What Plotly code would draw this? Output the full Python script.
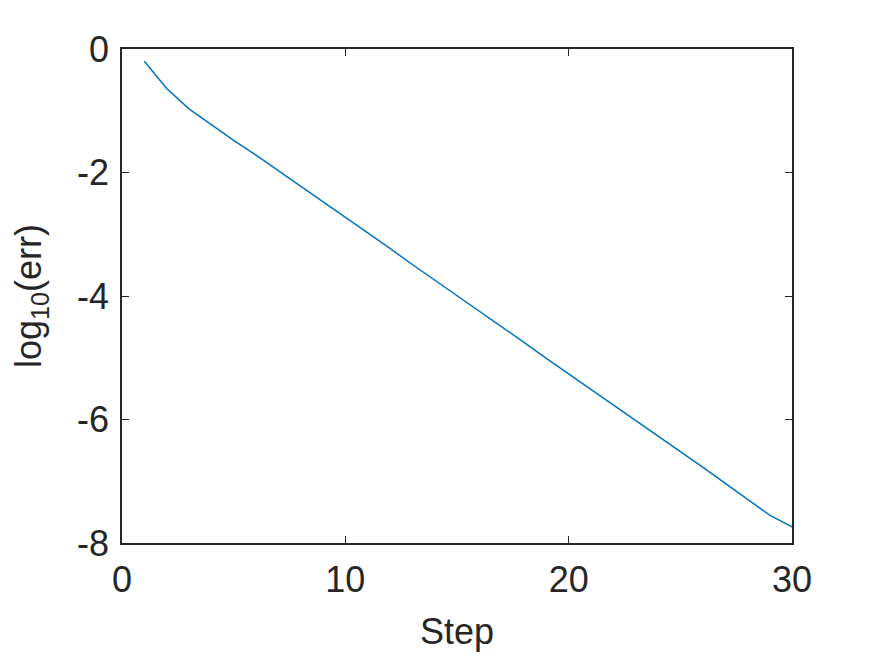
import plotly.graph_objects as go

# datos
paso = list(range(1, 31))
log_err = [-0.20, -0.64, -0.97, -1.23, -1.48, -1.72, -1.97, -2.22, -2.47, -2.72,
           -2.98, -3.23, -3.49, -3.74, -4.00, -4.25, -4.50, -4.75, -5.01, -5.26,
           -5.51, -5.77, -6.02, -6.27, -6.52, -6.77, -7.03, -7.29, -7.55, -7.74]

x_ticks = [0, 10, 20, 30]
y_ticks = [0, -2, -4, -6, -8]

color_texto = '#262626'

fig = go.Figure()
fig.add_trace(go.Scatter(x=paso, y=log_err, mode='lines',
                         line=dict(color='#0072BD', width=1.5), showlegend=False))

ejes = dict(showline=True, linecolor=color_texto, linewidth=1.5, mirror='ticks',
            ticks='inside', ticklen=7, tickwidth=1.2, tickcolor=color_texto,
            showgrid=False, zeroline=False, ticklabelstandoff=4,
            tickfont=dict(size=36, color=color_texto))

# la pagina html agrega 8px de margen al body, se compensa aqui
fig.update_layout(
    width=875, height=656,
    margin=dict(l=114, r=91, t=41, b=121),
    paper_bgcolor='white', plot_bgcolor='white',
    font=dict(family='Liberation Sans, Arial, sans-serif', color=color_texto),
    xaxis=dict(range=[0, 30], tickvals=x_ticks, ticktext=[str(v) for v in x_ticks],
               title=dict(text='Step', font=dict(size=36), standoff=20), **ejes),
    yaxis=dict(range=[-8, 0], tickvals=y_ticks, ticktext=[str(v) for v in y_ticks],
               title=dict(text='log<sub>10</sub>(err)', font=dict(size=36), standoff=32),
               **ejes),
)

fig.write_html("out.html")
